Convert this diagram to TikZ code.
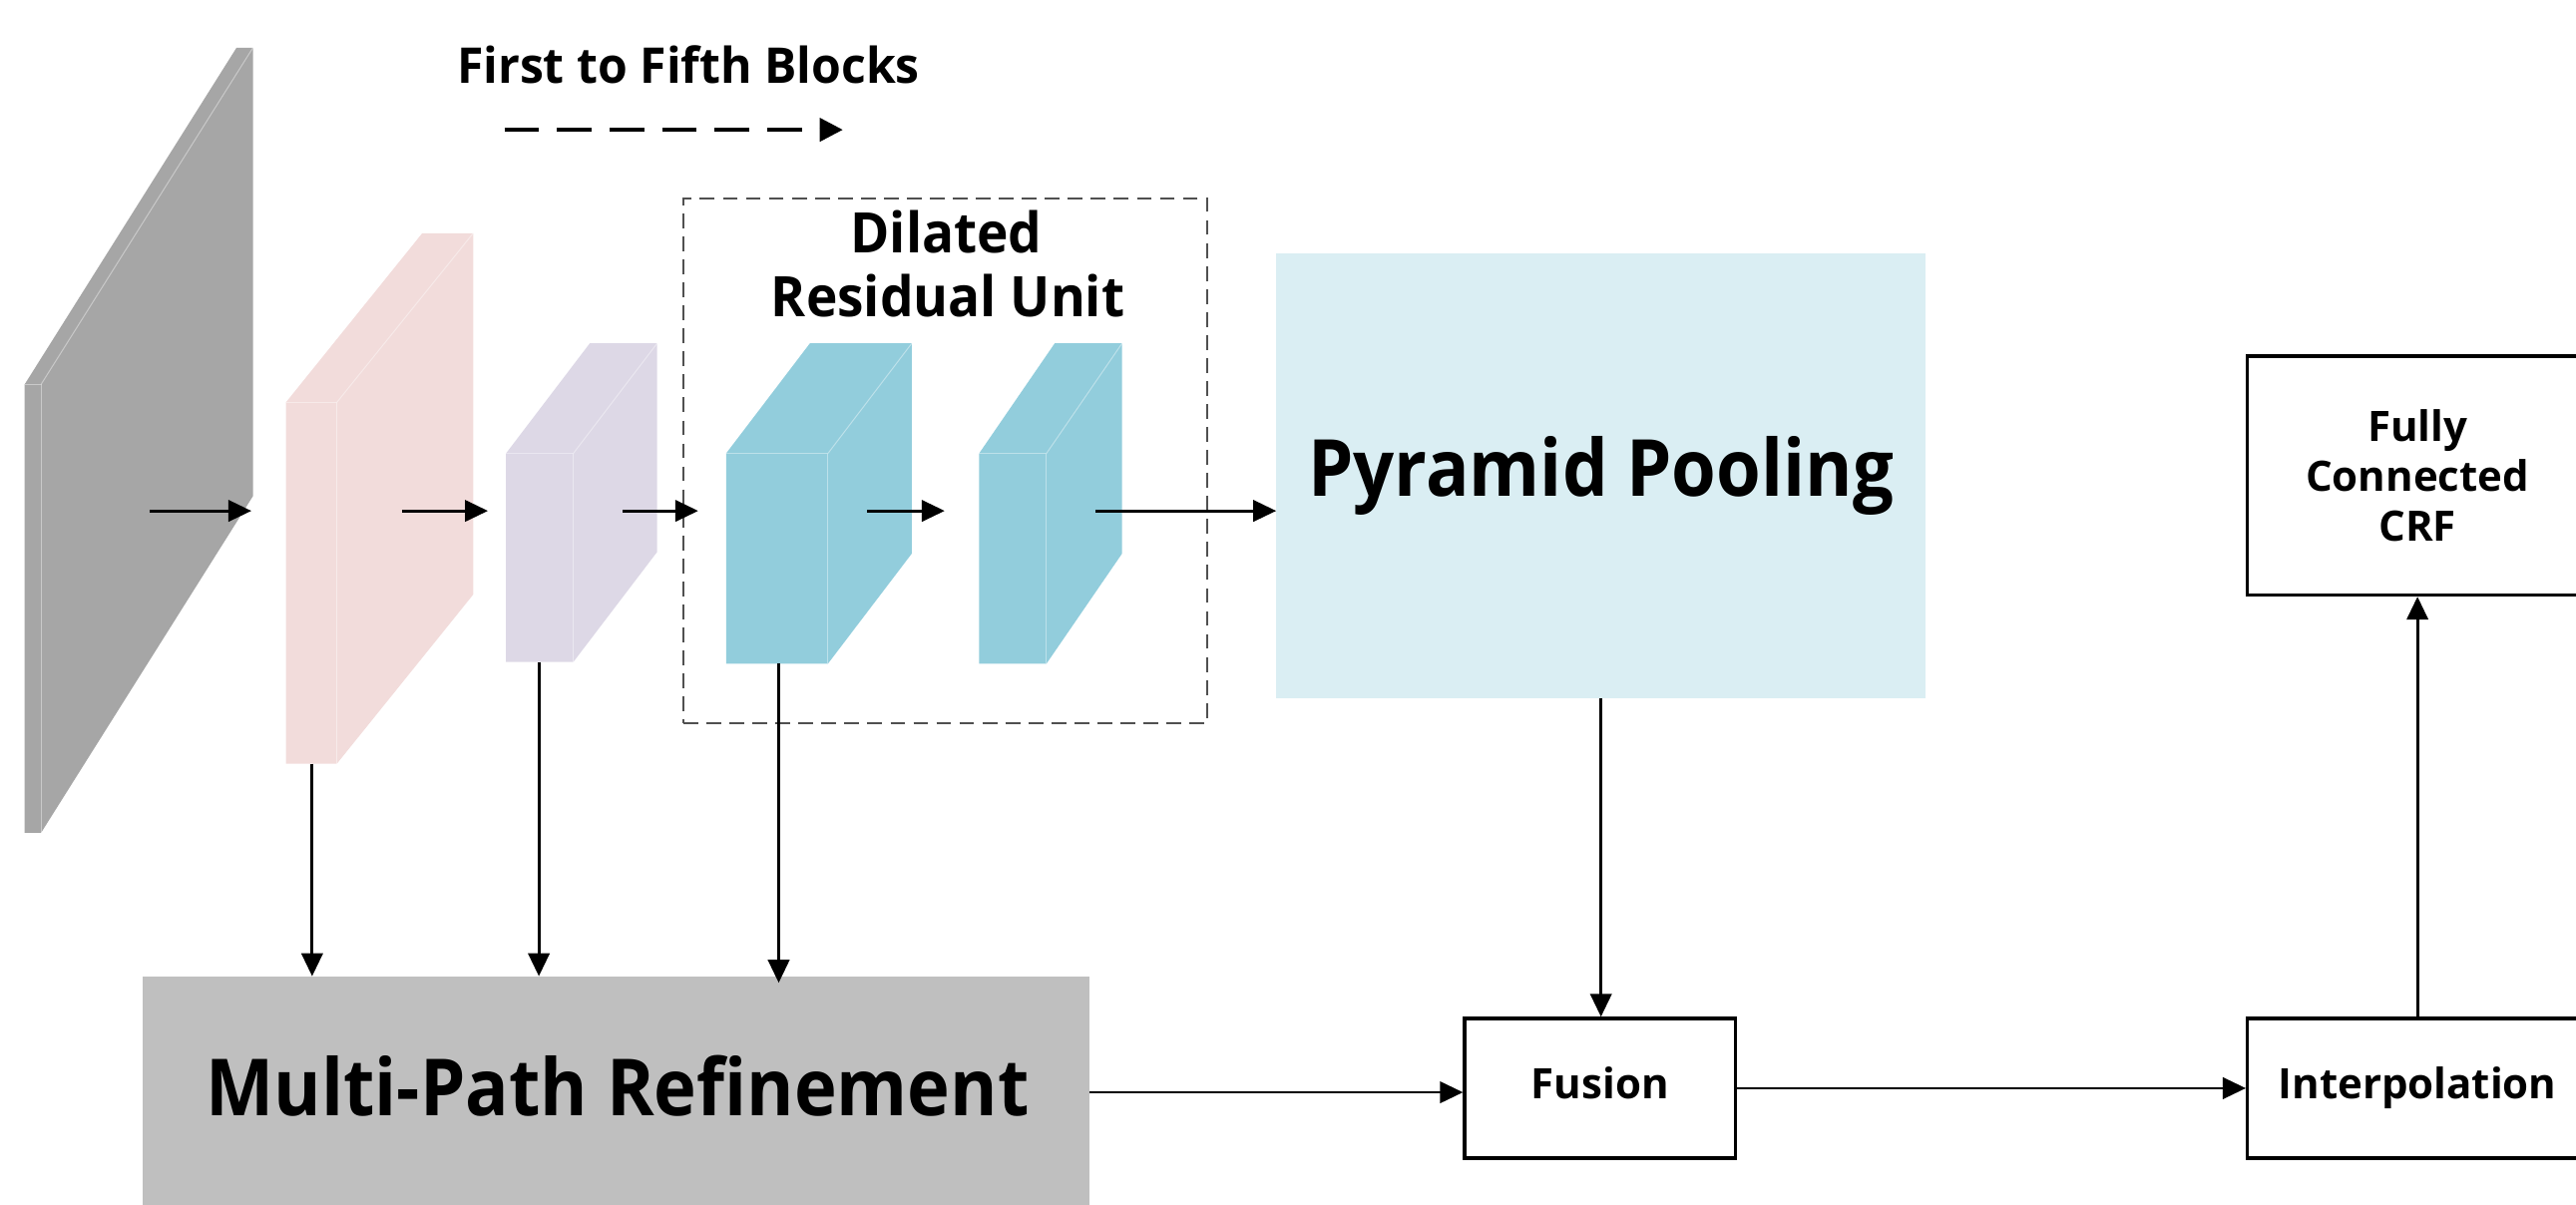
\documentclass[tikz,border=0pt]{standalone}
\usepackage{fontspec}
\setmainfont{Open Sans}
\usetikzlibrary{arrows.meta}

\definecolor{slabgray}{HTML}{A6A6A6}
\definecolor{blockpink}{HTML}{F2DCDB}
\definecolor{blockviolet}{HTML}{DDD8E6}
\definecolor{blockcyan}{HTML}{92CDDC}
\definecolor{poolfill}{HTML}{DAEEF3}
\definecolor{refinefill}{HTML}{BFBFBF}
\definecolor{unitline}{HTML}{505050}

% Feature block seen in perspective:
% #1 colour, front face from (#2,#3) to (#4,#5), depth offset (#6,#7)
\newcommand\featureblock[7]{%
  \fill[#1] (#2,#5) -- (#2,#3) -- (#2+#6,#3+#7) -- (#4+#6,#3+#7)
            -- (#4+#6,#5+#7) -- (#4,#5) -- cycle;
  \draw[blockedge] (#4,#5) -- (#4,#3) -- (#2,#3);
  \draw[blockedge] (#4,#3) -- (#4+#6,#3+#7);
}

\begin{document}
\begin{tikzpicture}[x=1pt,y=-1pt,
  blockedge/.style={draw=white, draw opacity=0.4, line width=0.6pt},
  flow/.style={line width=1.7pt, -{Triangle[length=14pt,width=13pt]}},
  dashflow/.style={line width=2.4pt, dash pattern=on 21pt off 11pt,
                   -{Triangle[length=14pt,width=14pt]}},
  box/.style={draw=black, line width=2pt, fill=white, inner sep=0pt},
  smalltext/.style={font=\fontsize{25.5}{30.5}\selectfont\bfseries},
  midtext/.style={font=\fontsize{34}{39}\selectfont\bfseries},
  bigtext/.style={font=\fontsize{48}{56}\selectfont\bfseries},
  unitbox/.style={draw=unitline, line width=1.2pt, dash pattern=on 9pt off 5pt,
                  inner sep=0pt, minimum width=319pt, minimum height=319pt},
]
\useasboundingbox (0,0) rectangle (1568,733);
\clip (0,0) rectangle (1568,733);

% encoder feature maps
\featureblock{slabgray}{15}{234}{25}{507}{129}{-205}
\featureblock{blockpink}{174}{245}{205}{465}{83}{-103}
\featureblock{blockviolet}{308}{276}{349}{403}{51}{-67}
\featureblock{blockcyan}{442}{276}{504}{404}{51}{-67}
\featureblock{blockcyan}{596}{276}{637}{404}{46}{-67}

% connector end points on the feature maps
\coordinate (a1s) at (91,311);  \coordinate (a1e) at (153,311);
\coordinate (a2s) at (245,311); \coordinate (a2e) at (297,311);
\coordinate (a3s) at (379,311); \coordinate (a3e) at (425,311);
\coordinate (a4s) at (528,311); \coordinate (a4e) at (575,311);
\coordinate (a5s) at (667,311);
\coordinate (pinkbot) at (190,465);
\coordinate (violetbot) at (328,403);
\coordinate (cyanbot) at (474,404);
\coordinate (refout) at (663,665);
\coordinate (dashs) at (307,79); \coordinate (dashe) at (513,79);

% labels above the encoder
\node[font=\fontsize{30}{36}\selectfont\bfseries, anchor=base, inner sep=0pt]
  (blocks) at (419,50.5) {\scalebox{0.975}[1]{First to Fifth Blocks}};
\draw[dashflow] (dashs) -- (dashe);

\node[unitbox] (dru) at (575.5,280.5) {};
\node[midtext, anchor=base, inner sep=0pt] (drua) at (576,154) {\scalebox{0.95}[1]{Dilated}};
\node[midtext, anchor=base, inner sep=0pt] (drub) at (577,193) {\scalebox{0.95}[1]{Residual Unit}};

% processing stages
\node[inner sep=0pt, fill=poolfill, minimum width=395pt, minimum height=271pt,
      bigtext, text height=36.5pt, text depth=11.5pt]
  (pool) at (974.5,289.5) {\scalebox{0.915}[1]{Pyramid Pooling}};
\node[inner sep=0pt, fill=refinefill, minimum width=576pt, minimum height=146pt,
      bigtext, text height=36.5pt, text depth=13pt]
  (refine) at (375,667.5) {\hspace*{2pt}\scalebox{0.915}[1]{Multi-Path Refinement}};
\node[box, smalltext, minimum width=165pt, minimum height=85pt,
      text height=18.5pt, text depth=5.5pt]
  (fusion) at (974,662.5) {Fusion};
\node[box, smalltext, minimum width=207pt, minimum height=85pt,
      text height=18.5pt, text depth=5.5pt]
  (interp) at (1471.5,662.5) {Interpolation};
\node[box, smalltext, minimum width=207pt, minimum height=145.5pt, align=center]
  (crf) at (1471.5,289.5) {Fully\\Connected\\CRF};

% connectors
\draw[flow] (a1s) -- (a1e);
\draw[flow] (a2s) -- (a2e);
\draw[flow] (a3s) -- (a3e);
\draw[flow] (a4s) -- (a4e);
\draw[flow] (a5s) -- (pool.west |- a5s);
\draw[flow] (pinkbot) -- (pinkbot |- refine.north);
\draw[flow] (violetbot) -- (violetbot |- refine.north);
\draw[flow, shorten >=-4pt] (cyanbot) -- (cyanbot |- refine.north);
\draw[flow] (pool.south) -- (pool.south |- fusion.north);
\draw[flow] (refout) -- (refout -| fusion.west);
\draw[flow] (fusion.east) -- (interp.west);
\draw[flow] (interp.north) -- (crf.south);
\end{tikzpicture}
\end{document}
